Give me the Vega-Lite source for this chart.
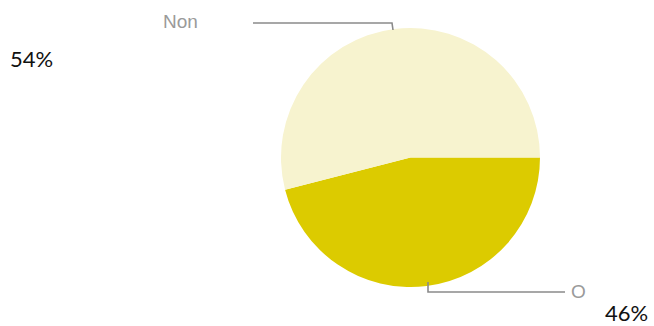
{
  "$schema": "https://vega.github.io/schema/vega-lite/v6.json",
  "width": 654,
  "height": 326,
  "autosize": {"type": "fit", "contains": "padding"},
  "padding": 0,
  "background": "white",
  "config": {"view": {"stroke": null}},
  "datasets": {
    "pie": [
      {"answer": "Oui", "share": 46},
      {"answer": "Non", "share": 54}
    ],
    "leaders": [
      {"id": "Non", "seq": 0, "x": 253, "y": 23},
      {"id": "Non", "seq": 1, "x": 392, "y": 23},
      {"id": "Non", "seq": 2, "x": 393, "y": 30},
      {"id": "Oui", "seq": 0, "x": 428, "y": 282},
      {"id": "Oui", "seq": 1, "x": 428, "y": 292},
      {"id": "Oui", "seq": 2, "x": 565, "y": 292}
    ],
    "labels": [
      {"text": "Non", "x": 163, "y": 22, "kind": "category"},
      {"text": "O", "x": 571, "y": 292, "kind": "category"},
      {"text": "54%", "x": 10, "y": 60, "kind": "pct"},
      {"text": "46%", "x": 605, "y": 314, "kind": "pct"}
    ]
  },
  "layer": [
    {
      "data": {"name": "pie"},
      "mark": {"type": "arc", "outerRadius": 129.5},
      "encoding": {
        "theta": {"field": "share", "type": "quantitative", "stack": true, "scale": {"range": [1.5708, 7.854]}},
        "color": {"field": "answer", "type": "nominal", "scale": {"domain": ["Non", "Oui"], "range": ["#f7f3cf", "#dccb00"]}, "legend": null},
        "order": {"field": "answer", "sort": "descending"},
        "x": {"datum": 410.5, "type": "quantitative", "scale": {"domain": [0, 654]}, "axis": null},
        "y": {"datum": 157.5, "type": "quantitative", "scale": {"domain": [0, 326], "reverse": true}, "axis": null}
      }
    },
    {
      "data": {"name": "leaders"},
      "mark": {"type": "line", "color": "#8a8a8a", "strokeWidth": 1.6},
      "encoding": {
        "x": {"field": "x", "type": "quantitative", "scale": {"domain": [0, 654]}, "axis": null},
        "y": {"field": "y", "type": "quantitative", "scale": {"domain": [0, 326], "reverse": true}, "axis": null},
        "detail": {"field": "id"},
        "order": {"field": "seq"}
      }
    },
    {
      "data": {"name": "labels"},
      "transform": [{"filter": "datum.kind === 'category'"}],
      "mark": {"type": "text", "align": "left", "baseline": "middle", "font": "Liberation Sans", "fontSize": 19, "color": "#9a9a9a"},
      "encoding": {
        "x": {"field": "x", "type": "quantitative", "scale": {"domain": [0, 654]}, "axis": null},
        "y": {"field": "y", "type": "quantitative", "scale": {"domain": [0, 326], "reverse": true}, "axis": null},
        "text": {"field": "text"}
      }
    },
    {
      "data": {"name": "labels"},
      "transform": [{"filter": "datum.kind === 'pct'"}],
      "mark": {"type": "text", "align": "left", "baseline": "middle", "font": "Lato", "fontSize": 22, "color": "#111111"},
      "encoding": {
        "x": {"field": "x", "type": "quantitative", "scale": {"domain": [0, 654]}, "axis": null},
        "y": {"field": "y", "type": "quantitative", "scale": {"domain": [0, 326], "reverse": true}, "axis": null},
        "text": {"field": "text"}
      }
    }
  ]
}
